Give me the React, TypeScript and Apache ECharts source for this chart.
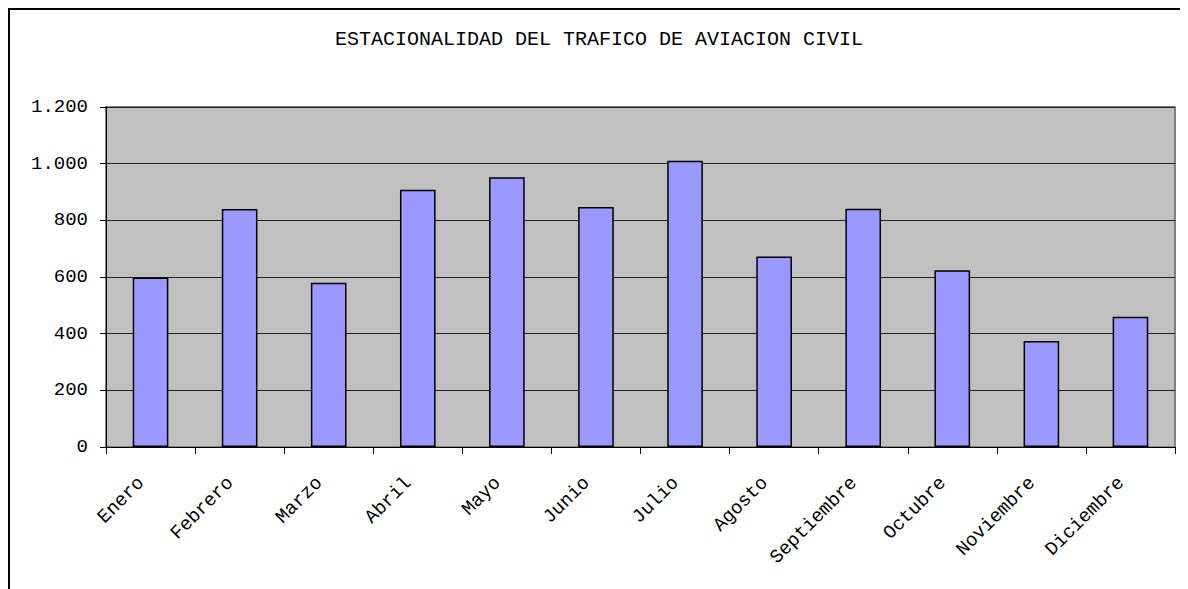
import React, { useEffect, useRef } from "react";
import * as echarts from "echarts";

const titleText = "ESTACIONALIDAD DEL TRAFICO DE AVIACION CIVIL";
const months = [
  "Enero", "Febrero", "Marzo", "Abril", "Mayo", "Junio",
  "Julio", "Agosto", "Septiembre", "Octubre", "Noviembre", "Diciembre",
];
const traffic = [598, 840, 580, 908, 952, 847, 1010, 672, 841, 624, 374, 460];
const yMin = 0;
const yMax = 1200;
const yStep = 200;

const FONT = "Liberation Mono";

function fmt(v: number): string {
  return String(v).replace(/\B(?=(\d{3})+(?!\d))/g, ".");
}

export default function App() {
  const ref = useRef<HTMLDivElement>(null);
  useEffect(() => {
    if (!ref.current) return;
    const chart = echarts.init(ref.current, undefined, { renderer: "svg" });
    chart.setOption({
      animation: false,
      backgroundColor: "#ffffff",
      title: {
        text: titleText,
        left: "center",
        top: 14,
        textStyle: { fontFamily: FONT, fontSize: 20, fontWeight: "normal", color: "#000" },
      },
      grid: {
        left: 96,
        top: 97,
        right: 13,
        bottom: 142,
        show: true,
        backgroundColor: "#c0c0c0",
        borderColor: "#808080",
        borderWidth: 2,
      },
      xAxis: {
        type: "category",
        data: months,
        boundaryGap: true,
        axisLine: { show: true, lineStyle: { color: "#000", width: 1 } },
        axisTick: { show: true, alignWithLabel: false, interval: 0, length: 7, lineStyle: { color: "#000" } },
        axisLabel: {
          interval: 0,
          rotate: 45,
          margin: 24,
          padding: [0, 13, 0, 0],
          fontFamily: FONT,
          fontSize: 19,
          color: "#000",
        },
        splitLine: { show: false },
      },
      yAxis: {
        type: "value",
        min: yMin,
        max: yMax,
        interval: yStep,
        axisLine: { show: true, lineStyle: { color: "#000", width: 1 } },
        axisTick: { show: true, length: 6, lineStyle: { color: "#000" } },
        axisLabel: {
          margin: 18,
          fontFamily: FONT,
          fontSize: 19,
          color: "#000",
          formatter: (v: number) => fmt(v),
        },
        splitLine: { show: true, lineStyle: { color: "#222", width: 1 } },
      },
      series: [
        {
          type: "bar",
          data: traffic,
          barWidth: "40%",
          itemStyle: { color: "#9999ff", borderColor: "#000", borderWidth: 1.5 },
        },
      ],
    });
    return () => chart.dispose();
  }, []);

  return (
    <div
      style={{
        width: 1180,
        height: 581,
        borderTop: "2px solid #000",
        borderLeft: "2px solid #000",
        boxSizing: "border-box",
        position: "relative",
        overflow: "hidden",
      }}
    >
      <div ref={ref} style={{ width: 1178, height: 579 }} />
    </div>
  );
}
